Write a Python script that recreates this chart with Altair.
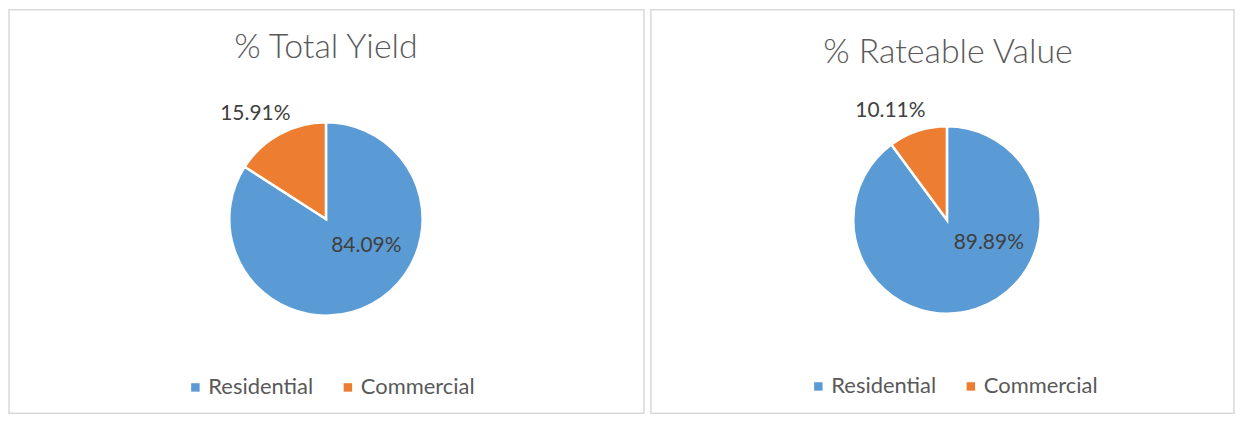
import altair as alt
import pandas as pd

categories = ["Residential", "Commercial"]
yield_pct = [84.09, 15.91]
rateable_pct = [89.89, 10.11]
titles = ["% Total Yield", "% Rateable Value"]
colors = ["#5B9BD5", "#ED7D31"]

FONT = "Lato"
TEXT_GRAY = "#595959"
LABEL_GRAY = "#404040"


def panel(values, title, w, h, cx, cy, r, tx, ty, lx, ly, lab_specs):
    df = pd.DataFrame({
        "category": categories,
        "value": values,
        "order": list(range(len(categories))),
        "label": [f"{v:.2f}%" for v in values],
    })
    theta_scale = alt.Scale(domain=[0, 100])
    color = alt.Color(
        "category:N",
        scale=alt.Scale(domain=categories, range=colors),
        legend=alt.Legend(
            title=None, orient="none", direction="horizontal",
            legendX=lx, legendY=ly, symbolType="square", symbolSize=72,
            symbolStrokeWidth=0, labelFont=FONT, labelFontSize=22,
            labelColor=TEXT_GRAY, labelOffset=2, columnPadding=23, padding=0,
        ),
    )
    arcs = alt.Chart(df).mark_arc(stroke="white", strokeWidth=2.5).encode(
        theta=alt.Theta("value:Q", stack=True, scale=theta_scale),
        order=alt.Order("order:Q"),
        color=color,
        x=alt.value(cx), y=alt.value(cy), radius=alt.value(r),
    )
    layers = [arcs]
    for cat, rad, dx, dy in lab_specs:
        t = alt.Chart(df).transform_window(
            cum="sum(value)", sort=[alt.SortField("order")], frame=[None, 0]
        ).transform_calculate(
            mid="datum.cum - datum.value / 2"
        ).transform_filter(
            alt.datum.category == cat
        ).mark_text(
            radius=rad, dx=dx, dy=dy, font=FONT, fontSize=21, color=LABEL_GRAY
        ).encode(
            theta=alt.Theta("mid:Q", stack=False, scale=theta_scale),
            text="label:N",
            x=alt.value(cx), y=alt.value(cy),
        )
        layers.append(t)
    ttl = alt.Chart(pd.DataFrame({"title": [title]})).mark_text(
        font=FONT, fontSize=34, fontWeight=300, color=TEXT_GRAY,
        baseline="middle", align="center"
    ).encode(text="title:N", x=alt.value(tx), y=alt.value(ty))
    layers.append(ttl)
    return alt.layer(*layers).properties(width=w, height=h)


left = panel(yield_pct, titles[0], 637, 405, 318, 210, 97, 318, 39, 176, 368,
             [("Commercial", 127, -10, 6), ("Residential", 49, 17, -16)])
right = panel(rateable_pct, titles[1], 585, 405, 297, 211, 94, 298, 44, 157, 367,
              [("Commercial", 124, -18, 8), ("Residential", 48, 27, -22)])

chart = alt.hconcat(left, right, spacing=5).resolve_scale(
    color="independent", theta="independent"
).properties(
    padding=0, background="white"
).configure_view(
    stroke="#d9d9d9", strokeWidth=1.5
)

chart.save("out.html", embed_options={"renderer": "svg", "actions": False})
